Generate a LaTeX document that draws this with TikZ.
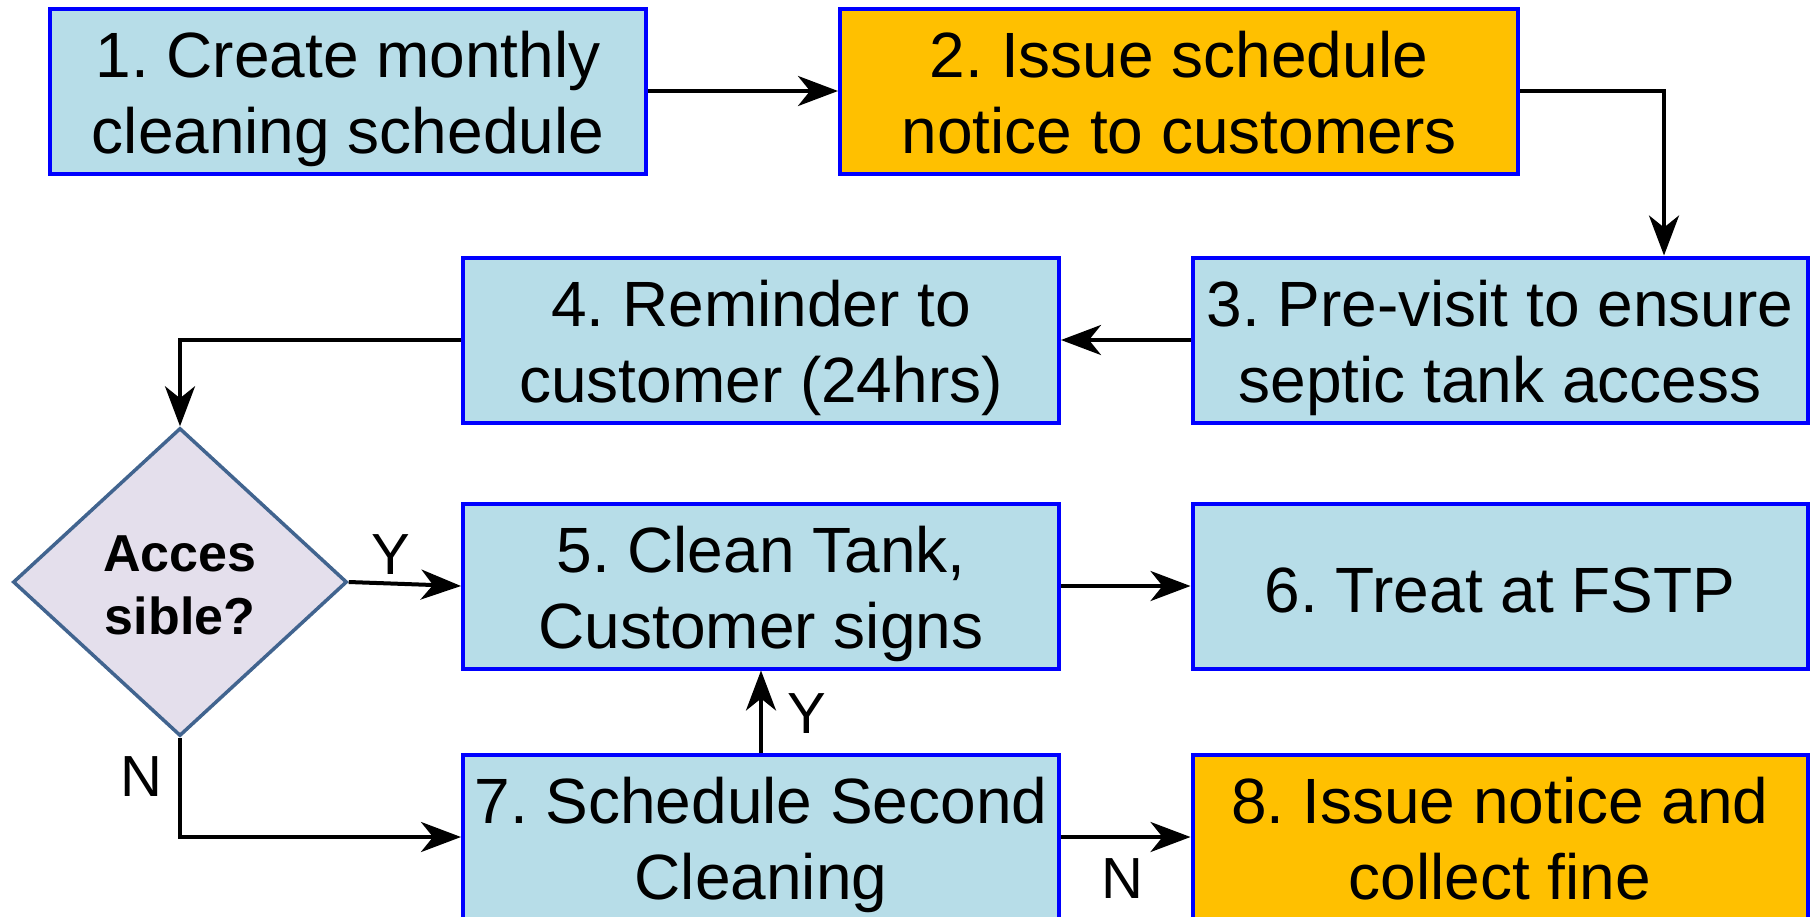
\documentclass[tikz,border=0pt]{standalone}
\usepackage{fontspec}
\setmainfont{Liberation Sans}
\usetikzlibrary{arrows.meta,shapes.geometric}
\definecolor{boxblue}{HTML}{B7DDE8}
\definecolor{boxorange}{HTML}{FFC000}
\definecolor{edgeblue}{HTML}{0000FF}
\definecolor{dfill}{HTML}{E4DFEC}
\definecolor{dedge}{HTML}{41648F}
\frenchspacing
\newcommand\mylift{\rule{0pt}{63pt}}
\newcommand\mydrop{\rule[-15pt]{0pt}{15pt}}
\begin{document}
\begin{tikzpicture}[x=1pt,y=-1pt,
  stepbox/.style={draw=edgeblue,line width=4pt,fill=boxblue,minimum height=165pt,
    inner sep=0pt,align=center,font=\fontsize{64}{76}\selectfont},
  orangebox/.style={stepbox,fill=boxorange},
  decision/.style={diamond,draw=dedge,line width=3.5pt,fill=dfill,minimum width=334pt,
    minimum height=308pt,inner sep=0pt,align=center,font=\fontsize{52}{63}\selectfont\bfseries},
  arr/.style={draw=black,line width=4pt,-{Stealth[length=40pt,width=30pt,inset=12pt]}},
  lbl/.style={font=\fontsize{58}{64}\selectfont,inner sep=0pt}]
\useasboundingbox (0,0) rectangle (1814,916);
\node[stepbox,minimum width=596pt] (b1) at (348,91) {\mylift 1. Create monthly\\cleaning schedule\mydrop};
\node[orangebox,minimum width=678pt] (b2) at (1179,91) {\mylift 2. Issue schedule\\notice to customers\mydrop};
\node[stepbox,minimum width=615pt] (b3) at (1500,340) {\mylift 3. Pre-visit to ensure\\septic tank access\mydrop};
\node[stepbox,minimum width=596pt] (b4) at (761,340) {\mylift 4. Reminder to\\customer (24hrs)\mydrop};
\node[stepbox,minimum width=596pt] (b5) at (761,586) {\mylift 5. Clean Tank,\\Customer signs\mydrop};
\node[stepbox,minimum width=615pt] (b6) at (1500,586) {\rule{0pt}{54pt}6. Treat at FSTP};
\node[stepbox,minimum width=596pt] (b7) at (761,837) {\mylift 7. Schedule Second\\Cleaning\mydrop};
\node[orangebox,minimum width=615pt] (b8) at (1500,837) {\mylift 8. Issue notice and\\collect fine\mydrop};
\node[decision] (d) at (180,582) {\rule{0pt}{42pt}Acces\\sible?};
\draw[arr] (b1) -- (b2);
\draw[arr] (b2.east) -| ([xshift=164pt]b3.north);
\draw[arr] (b3) -- (b4);
\draw[arr] (b4.west) -| (d.north);
\draw[arr] (d.east) -- (b5.west);
\draw[arr] (b5) -- (b6);
\draw[arr] (d.south) |- (b7.west);
\draw[arr] (b7.north) -- (b5.south);
\draw[arr] (b7) -- (b8);
\node[lbl] (ly1) at (391,555) {Y};
\node[lbl] (ln1) at (141,777) {N};
\node[lbl] (ly2) at (807,714) {Y};
\node[lbl] (ln2) at (1122,879) {N};
\end{tikzpicture}
\end{document}
